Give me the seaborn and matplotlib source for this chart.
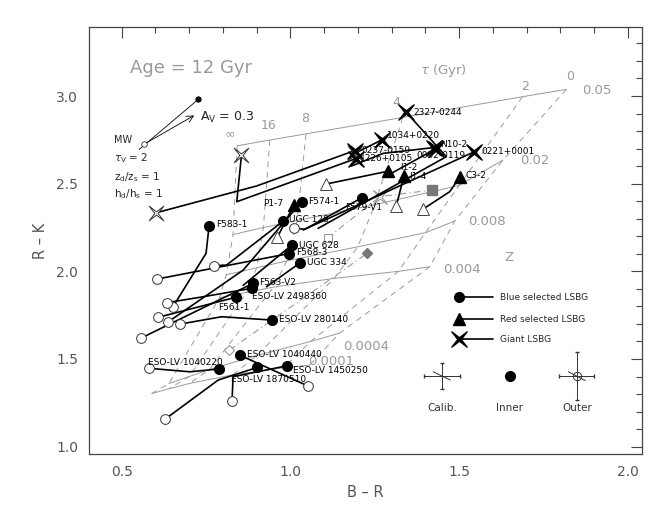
import matplotlib
matplotlib.use("Agg")
import matplotlib.pyplot as plt
import seaborn as sns
from matplotlib.path import Path
from matplotlib.ticker import MultipleLocator, FormatStrFormatter

# ---- model grid (Age = 12 Gyr): one row per metallicity, tau = inf,16,8,4,2,0
grid_z = ["0.05", "0.02", "0.008", "0.004", "0.0004", "0.0001"]
grid_x = [
    [0.842, 0.939, 1.046, 1.333, 1.688, 1.818],
    [0.830, 0.920, 1.020, 1.250, 1.500, 1.630],
    [0.810, 0.900, 0.990, 1.200, 1.400, 1.487],
    [0.790, 0.870, 0.950, 1.130, 1.320, 1.413],
    [0.640, 0.700, 0.760, 0.900, 1.060, 1.146],
    [0.589, 0.640, 0.700, 0.830, 0.980, 1.057],
]
grid_y = [
    [2.716, 2.749, 2.784, 2.878, 2.996, 3.038],
    [2.210, 2.250, 2.290, 2.380, 2.490, 2.635],
    [1.980, 2.020, 2.060, 2.140, 2.220, 2.287],
    [1.850, 1.880, 1.910, 1.960, 2.000, 2.026],
    [1.360, 1.400, 1.440, 1.520, 1.600, 1.648],
    [1.303, 1.330, 1.360, 1.410, 1.450, 1.465],
]
tau_labels = ["\u221e", "16", "8", "4", "2", "0"]
tau_lab_x = [0.821, 0.934, 1.045, 1.314, 1.694, 1.830]
tau_lab_y = [2.787, 2.829, 2.873, 2.962, 3.057, 3.114]
z_lab_x = [1.907, 1.724, 1.583, 1.509, 1.223, 1.122]
z_lab_y = [3.030, 2.635, 2.283, 2.011, 1.574, 1.484]

# ---- dust tracks (grey dash-dot) and grey symbols
dust1_x = [0.819, 1.228]
dust1_y = [1.551, 2.103]
dust2_x = [1.110, 1.265, 1.421]
dust2_y = [2.190, 2.426, 2.464]

# ---- blue selected LSBGs: inner point first, outer point last
blue_names = ["F583-1", "F574-1", "F579-V1", "UGC 128", "UGC 628", "F568-3",
              "UGC 334", "F563-V2", "ESO-LV 2498360", "F561-1", "ESO-LV 280140",
              "ESO-LV 1040440", "ESO-LV 1040220", "ESO-LV 1870510", "ESO-LV 1450250"]
blue_x = [
    [0.759, 0.750, 0.651], [1.033, 0.860, 0.638], [1.212, 1.043, 1.011],
    [0.979, 0.811, 0.774], [1.006, 0.860], [0.995, 0.605],
    [1.029, 0.929], [0.889, 0.556], [0.885, 0.732, 0.633],
    [0.838, 0.607], [0.946, 0.796, 0.673], [0.850, 1.051],
    [0.788, 0.702, 0.581], [0.902, 0.786, 0.628], [0.989, 0.830, 0.827],
]
blue_y = [
    [2.260, 2.103, 1.795], [2.397, 2.007, 1.712], [2.420, 2.240, 2.245],
    [2.287, 2.036, 2.032], [2.153, 1.920], [2.101, 1.956],
    [2.049, 1.912], [1.931, 1.618], [1.903, 1.852, 1.821],
    [1.852, 1.737], [1.722, 1.741, 1.699], [1.522, 1.347],
    [1.443, 1.427, 1.447], [1.452, 1.380, 1.156], [1.461, 1.399, 1.260],
]
blue_has_outer = [1, 1, 1, 1, 0, 1, 0, 1, 1, 1, 1, 1, 1, 1, 1]
blue_lab_x = [0.779, 1.053, 1.161, 0.996, 1.025, 1.016, 1.050, 0.907, 0.885,
              0.786, 0.967, 0.870, 0.577, 0.824, 1.008]
blue_lab_y = [2.268, 2.397, 2.365, 2.293, 2.150, 2.106, 2.051, 1.935, 1.859,
              1.795, 1.726, 1.528, 1.481, 1.384, 1.433]

# ---- red selected LSBGs
red_names = ["P1-7", "I1-2", "I1-4", "C3-2"]
red_x = [[1.011, 0.961], [1.289, 1.106], [1.336, 1.314], [1.502, 1.472, 1.393]]
red_y = [[2.381, 2.193], [2.571, 2.498], [2.542, 2.374], [2.538, 2.454, 2.355]]
red_lab_x = [0.919, 1.324, 1.352, 1.520]
red_lab_y = [2.388, 2.591, 2.540, 2.544]

# ---- giant LSBGs
giant_names = ["2327-0244", "1034+0220", "0237-0159", "1226+0105", "N10-2",
               "0052-0119", "0221+0001"]
giant_x = [[1.344, 1.462, 1.082], [1.270, 1.191], [1.191, 0.900, 0.602],
           [1.194, 0.841, 0.855], [1.425, 1.275, 1.180], [1.430, 1.300],
           [1.545, 1.038]]
giant_y = [[2.906, 2.654, 2.245], [2.749, 2.673], [2.689, 2.487, 2.334],
           [2.643, 2.397, 2.663], [2.706, 2.673, 2.600], [2.698, 2.560],
           [2.682, 2.236]]
giant_has_outer = [0, 1, 1, 1, 0, 0, 0]
giant_lab_x = [1.364, 1.285, 1.211, 1.206, 1.443, 1.372, 1.566]
giant_lab_y = [2.907, 2.772, 2.692, 2.645, 2.724, 2.658, 2.686]

GREY = "#9a9a9a"

# concave four-point star, rotated so it reads as an X
star = Path([(1, 1), (0.22, 0), (1, -1), (0, -0.22), (-1, -1), (-0.22, 0),
             (-1, 1), (0, 0.22), (1, 1)],
            [Path.MOVETO] + [Path.LINETO] * 7 + [Path.CLOSEPOLY])

sns.set_theme(style="white")
plt.rcParams["font.family"] = ["DejaVu Sans"]

fig = plt.figure(figsize=(6.68, 5.11), dpi=100)
ax = fig.add_axes([0.1337, 0.1115, 0.8269, 0.8351])

# model grid
for gx, gy in zip(grid_x, grid_y):
    sns.lineplot(x=gx, y=gy, ax=ax, sort=False, estimator=None, color=GREY, lw=0.7)
for j in range(len(tau_labels)):
    col_x = [row[j] for row in grid_x]
    col_y = [row[j] for row in grid_y]
    ax.plot(col_x, col_y, color=GREY, lw=0.7, ls=(0, (6, 5)))
for t, x, y in zip(tau_labels, tau_lab_x, tau_lab_y):
    ax.text(x, y, t, color=GREY, fontsize=9, ha="center", va="center")
for t, x, y in zip(grid_z, z_lab_x, z_lab_y):
    ax.text(x, y, t, color=GREY, fontsize=9.5, ha="center", va="center")
ax.text(1.454, 3.144, r"$\tau$ (Gyr)", color=GREY, fontsize=9.5, ha="center", va="center")
ax.text(1.647, 2.080, "Z", color=GREY, fontsize=9.5, ha="center", va="center")
ax.text(0.525, 3.158, "Age = 12 Gyr", color=GREY, fontsize=13, ha="left", va="center")

# dust tracks
ax.plot(dust1_x, dust1_y, color=GREY, lw=0.8, ls=(0, (6, 3, 1, 3)))
ax.plot(dust2_x, dust2_y, color=GREY, lw=0.8, ls=(0, (6, 3, 1, 3)))
ax.plot(dust1_x[0], dust1_y[0], marker="D", ms=5, mfc="white", mec=GREY, mew=0.8)
ax.plot(dust1_x[1], dust1_y[1], marker="D", ms=5, color="#777777")
ax.plot(dust2_x[0], dust2_y[0], marker="s", ms=6, mfc="white", mec=GREY, mew=0.8)
ax.plot(dust2_x[1], dust2_y[1], marker=star, ms=10, mfc="white", mec=GREY, mew=0.8)
ax.plot(dust2_x[2], dust2_y[2], marker="s", ms=6.5, color="#777777")

# galaxies
for xs, ys, has_out in zip(blue_x, blue_y, blue_has_outer):
    sns.lineplot(x=xs, y=ys, ax=ax, sort=False, estimator=None, color="black", lw=1.2)
    if has_out:
        ax.plot(xs[-1], ys[-1], "o", ms=7, mfc="white", mec="#333333", mew=0.7, zorder=3)
    ax.plot(xs[0], ys[0], "o", ms=7, color="black", zorder=4)
for xs, ys in zip(red_x, red_y):
    sns.lineplot(x=xs, y=ys, ax=ax, sort=False, estimator=None, color="black", lw=1.2)
    ax.plot(xs[-1], ys[-1], "^", ms=8, mfc="white", mec="#444444", mew=0.7, zorder=3)
    ax.plot(xs[0], ys[0], "^", ms=8, color="black", zorder=4)
for xs, ys, has_out in zip(giant_x, giant_y, giant_has_outer):
    sns.lineplot(x=xs, y=ys, ax=ax, sort=False, estimator=None, color="black", lw=1.2)
    if has_out:
        ax.plot(xs[-1], ys[-1], marker=star, ms=10.5, mfc="white", mec="#333333", mew=0.7, zorder=3)
    ax.plot(xs[0], ys[0], marker=star, ms=11, color="black", zorder=4)

for names, lx, ly in [(blue_names, blue_lab_x, blue_lab_y),
                      (red_names, red_lab_x, red_lab_y),
                      (giant_names, giant_lab_x, giant_lab_y)]:
    for n, x, y in zip(names, lx, ly):
        ax.text(x, y, n, fontsize=6.5, ha="left", va="center", color="black")

# dust vector and model parameters
ax.plot([0.727, 0.552], [2.981, 2.696], color="black", lw=0.6)
ax.plot(0.727, 2.981, "o", ms=3.5, color="black")
ax.plot(0.567, 2.726, "o", ms=4, mfc="white", mec="#333333", mew=0.6)
ax.annotate("", xy=(0.722, 2.897), xytext=(0.567, 2.726),
            arrowprops=dict(arrowstyle="->", lw=0.6, color="black"))
ax.text(0.732, 2.878, r"A$_{\rm V}$ = 0.3", fontsize=9, va="center")
ax.text(0.478, 2.749, "MW", fontsize=7, va="center")
ax.text(0.478, 2.645, r"$\tau_{\rm V}$ = 2", fontsize=7.5, va="center")
ax.text(0.478, 2.540, r"z$_{\rm d}$/z$_{\rm s}$ = 1", fontsize=7.5, va="center")
ax.text(0.478, 2.441, r"h$_{\rm d}$/h$_{\rm s}$ = 1", fontsize=7.5, va="center")

# legend
leg_y = [1.852, 1.728, 1.612]
leg_text = ["Blue selected LSBG", "Red selected LSBG", "Giant LSBG"]
leg_mark = ["o", "^", star]
leg_size = [7, 8, 11]
for y, t, m, s in zip(leg_y, leg_text, leg_mark, leg_size):
    ax.plot([1.50, 1.599], [y, y], color="black", lw=1.2)
    ax.plot(1.50, y, marker=m, ms=s, color="black")
    ax.text(1.620, y, t, fontsize=6.5, va="center")

# error bars
ax.errorbar(1.449, 1.403, xerr=0.053, yerr=0.074, fmt="none", ecolor="#333333",
            elinewidth=0.7, capsize=1.5)
ax.plot([1.423, 1.474], [1.427, 1.380], color="#333333", lw=0.7)
ax.plot(1.650, 1.403, "o", ms=7, color="black")
ax.errorbar(1.849, 1.403, xerr=0.052, yerr=0.138, fmt="none", ecolor="#333333",
            elinewidth=0.7, capsize=1.5)
ax.plot([1.824, 1.874], [1.427, 1.377], color="#333333", lw=0.7)
ax.plot(1.849, 1.403, "o", ms=6, mfc="none", mec="#333333", mew=0.7)
for x, t in zip([1.449, 1.650, 1.849], ["Calib.", "Inner", "Outer"]):
    ax.text(x, 1.218, t, fontsize=7.5, ha="center", va="center", color="#333333")

ax.set_xlim(0.404, 2.041)
ax.set_ylim(0.958, 3.392)
ax.xaxis.set_major_locator(MultipleLocator(0.5))
ax.xaxis.set_minor_locator(MultipleLocator(0.1))
ax.yaxis.set_major_locator(MultipleLocator(0.5))
ax.yaxis.set_minor_locator(MultipleLocator(0.1))
ax.xaxis.set_major_formatter(FormatStrFormatter("%.1f"))
ax.yaxis.set_major_formatter(FormatStrFormatter("%.1f"))
ax.tick_params(which="both", direction="in", top=True, right=True, colors="#444444",
               labelsize=10, labelcolor="#555555")
ax.tick_params(which="major", length=8, width=0.8, pad=8)
ax.tick_params(which="minor", length=4, width=0.8)
for s in ax.spines.values():
    s.set_color("#444444")
    s.set_linewidth(0.9)
ax.set_xlabel("B \u2013 R", fontsize=10.5, color="#555555", labelpad=4)
ax.set_ylabel("R \u2013 K", fontsize=10.5, color="#555555", labelpad=6)

fig.savefig("out.png", dpi=100)
